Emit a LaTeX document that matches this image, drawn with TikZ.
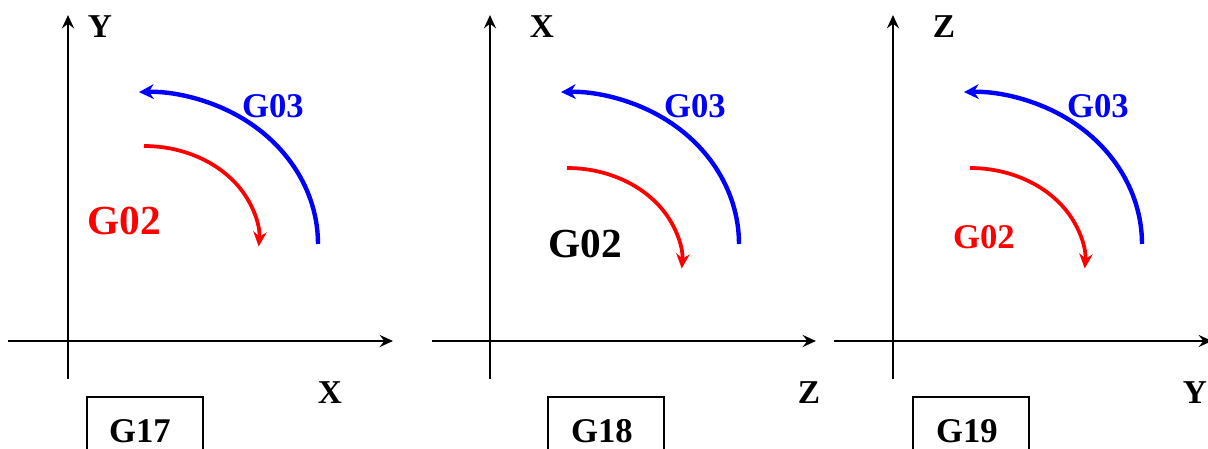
\documentclass[tikz,border=0pt]{standalone}
\usepackage{fontspec}
\setmainfont{Liberation Serif}
\usetikzlibrary{arrows.meta}
\begin{document}
\begin{tikzpicture}[x=0.75pt,y=-0.75pt,
  axis/.style={line width=1.6pt,-{Stealth[length=10pt,width=9pt,inset=3.5pt]}},
  ccw/.style={blue,line width=3.3pt,-{Stealth[length=11pt,width=11pt,inset=3.5pt]}},
  cw/.style={red,line width=2.8pt,-{Stealth[length=11pt,width=10pt,inset=3.5pt]}},
  lbl/.style={font=\bfseries\fontsize{25}{25}\selectfont,inner sep=0pt,anchor=base},
  glbl/.style={font=\bfseries\fontsize{26}{26}\selectfont,inner sep=0pt,anchor=base},
  planebox/.style={draw,line width=1.4pt,minimum width=87pt,minimum height=50pt,anchor=north west,inner sep=0pt}]
\useasboundingbox (0,0) rectangle (1208,449);
% ---------- Panel G17 ----------
\coordinate (v1s) at (68,379); \coordinate (v1e) at (68,15);
\coordinate (h1s) at (8,341); \coordinate (h1e) at (393,341);
\draw[axis] (v1s) -- (v1e);
\draw[axis] (h1s) -- (h1e);
\node[lbl] (y1) at (100,38) {Y};
\node[lbl] (x1) at (330,403) {X};
\coordinate (b1) at (318,244);
\draw[ccw] (b1) arc[start angle=0,end angle=92,x radius=173,y radius=-152];
\coordinate (r1) at (144,146);
\draw[cw] (r1) arc[start angle=90,end angle=-4,x radius=115,y radius=-94];
\node[glbl,blue] (g031) at (273,118) {G03};
\node[lbl,red,font=\bfseries\fontsize{31}{31}\selectfont] (g021) at (124,235) {G02};
\node[planebox] (box1) at (86,396) {};
\node[glbl] (t1) at (140,442) {G17};
% ---------- Panel G18 ----------
\coordinate (v2s) at (490,379); \coordinate (v2e) at (490,15);
\coordinate (h2s) at (432,341); \coordinate (h2e) at (816,341);
\draw[axis] (v2s) -- (v2e);
\draw[axis] (h2s) -- (h2e);
\node[lbl] (x2) at (542,38) {X};
\node[lbl] (z2) at (809,403) {Z};
\coordinate (b2) at (739,244);
\draw[ccw] (b2) arc[start angle=0,end angle=92,x radius=172,y radius=-152];
\coordinate (r2) at (567,168);
\draw[cw] (r2) arc[start angle=90,end angle=-4,x radius=115,y radius=-94];
\node[glbl,blue] (g032) at (695,118) {G03};
\node[lbl,font=\bfseries\fontsize{31}{31}\selectfont] (g022) at (585,258) {G02};
\node[planebox] (box2) at (547,396) {};
\node[glbl] (t2) at (602,442) {G18};
% ---------- Panel G19 ----------
\coordinate (v3s) at (893,379); \coordinate (v3e) at (893,15);
\coordinate (h3s) at (834,341); \coordinate (h3e) at (1212,341);
\draw[axis] (v3s) -- (v3e);
\draw[axis] (h3s) -- (h3e);
\node[lbl] (z3) at (944,38) {Z};
\node[lbl] (y3) at (1195,403) {Y};
\coordinate (b3) at (1142,244);
\draw[ccw] (b3) arc[start angle=0,end angle=92,x radius=172,y radius=-152];
\coordinate (r3) at (970,168);
\draw[cw] (r3) arc[start angle=90,end angle=-4,x radius=115,y radius=-94];
\node[glbl,blue] (g033) at (1098,118) {G03};
\node[glbl,red] (g023) at (984,249) {G02};
\node[planebox] (box3) at (912,396) {};
\node[glbl] (t3) at (967,442) {G19};
\end{tikzpicture}
\end{document}
